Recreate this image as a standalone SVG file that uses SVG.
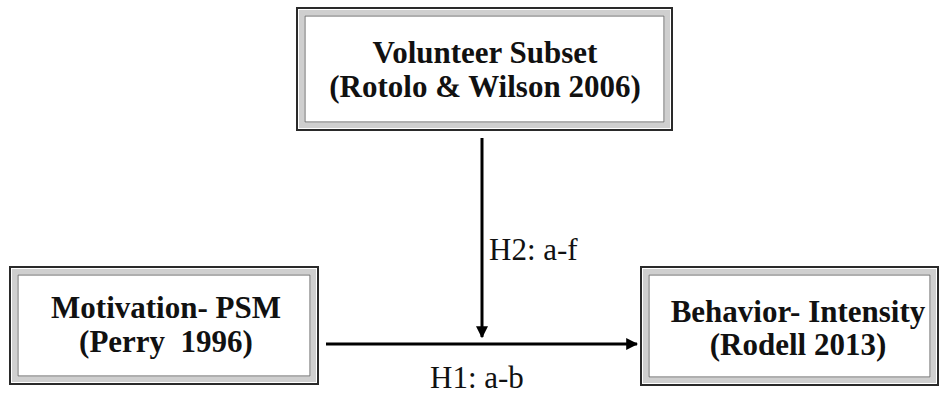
<svg xmlns="http://www.w3.org/2000/svg" width="940" height="394" viewBox="0 0 940 394">
<style>
.outer{fill:#fff;stroke:#2a2a2a;stroke-width:2}
.band{fill:none;stroke:#cfcfcf;stroke-width:5}
.inner{fill:none;stroke:#7a7a7a;stroke-width:1.2}
.t{font-family:"Liberation Serif","Times New Roman",serif;font-weight:bold;font-size:31px;fill:#111;text-anchor:middle}
.lbl{font-family:"Liberation Serif","Times New Roman",serif;font-size:31px;fill:#111}
.conn{stroke:#000;stroke-width:3;fill:none}
</style>
<defs>
<marker id="ah" viewBox="0 0 10 10" refX="9" refY="5" markerWidth="4" markerHeight="4" markerUnits="strokeWidth" orient="auto">
<path d="M0,0 L10,5 L0,10 z" fill="#000"/>
</marker>
</defs>
<rect width="940" height="394" fill="#fff"/>
<g id="volunteer">
<rect class="outer" x="297" y="8" width="375" height="122"/>
<rect class="band" x="301.5" y="12.5" width="366" height="113"/>
<rect class="inner" x="305" y="16" width="359" height="106"/>
<text class="t" x="485" y="63">Volunteer Subset</text>
<text class="t" x="485" y="97">(Rotolo &amp; Wilson 2006)</text>
</g>
<g id="motivation">
<rect class="outer" x="10" y="267" width="308" height="117"/>
<rect class="band" x="14.5" y="271.5" width="299" height="108"/>
<rect class="inner" x="18" y="275" width="292" height="101"/>
<text class="t" x="166" y="318">Motivation- PSM</text>
<text class="t" x="166" y="352" xml:space="preserve">(Perry  1996)</text>
</g>
<g id="behavior">
<rect class="outer" x="641" y="267" width="297" height="118"/>
<rect class="band" x="645.5" y="271.5" width="288" height="109"/>
<rect class="inner" x="649" y="275" width="281" height="102"/>
<text class="t" x="798" y="322">Behavior- Intensity</text>
<text class="t" x="798" y="355">(Rodell 2013)</text>
</g>
<g id="connectors">
<line class="conn" x1="326" y1="344" x2="637" y2="344" marker-end="url(#ah)"/>
<line class="conn" x1="482" y1="138" x2="482" y2="337" marker-end="url(#ah)"/>
<text class="lbl" x="489" y="260">H2: a-f</text>
<text class="lbl" x="430" y="388">H1: a-b</text>
</g>
</svg>
